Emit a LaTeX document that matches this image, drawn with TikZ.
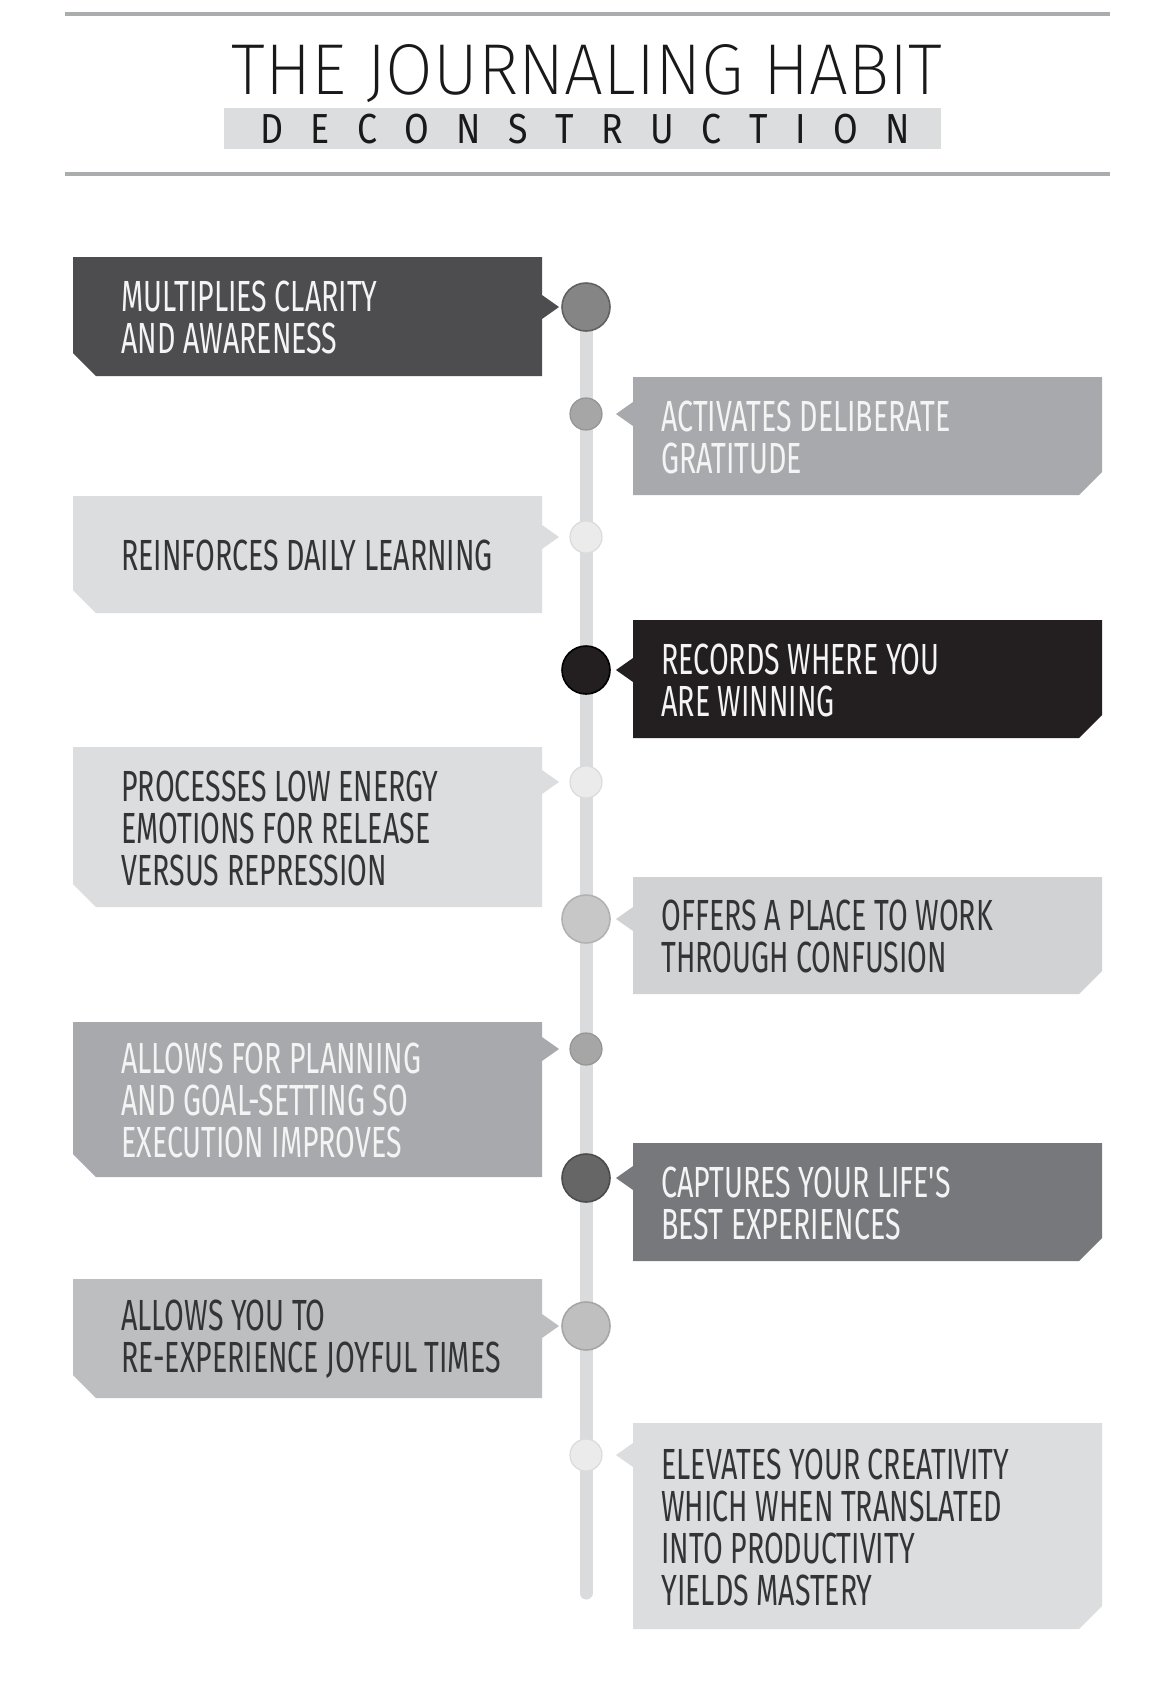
\documentclass[tikz,border=0pt]{standalone}
\usepackage{fontspec}
\newfontfamily\labfont[FakeStretch=0.655]{Fira Sans}
\IfFontExistsTF{Fira Sans ExtraLight}
  {\newfontfamily\titfont{Fira Sans ExtraLight}}
  {\IfFontExistsTF{Fira Sans Light}{\newfontfamily\titfont{Fira Sans Light}}{\newfontfamily\titfont{Fira Sans}}}
\newfontfamily\decofont[FakeStretch=0.85]{Fira Sans}
\definecolor{rulec}{HTML}{ABACAE}
\definecolor{bandc}{HTML}{DCDDDE}
\definecolor{linec}{HTML}{DADBDC}
\definecolor{darkbox}{HTML}{4D4D4F}
\definecolor{midbox}{HTML}{A7A9AC}
\definecolor{lightbox}{HTML}{DCDDDE}
\definecolor{blackbox}{HTML}{231F20}
\definecolor{paleb}{HTML}{D1D2D4}
\definecolor{greybox}{HTML}{77787B}
\definecolor{silverbox}{HTML}{BCBEC0}
\definecolor{darktext}{HTML}{343434}
\definecolor{whitetext}{HTML}{F4F4F4}
\newcommand\LBox[4]{\fill[#4] (73,#1) -- (542,#1) -- (542,#3-12) -- (559,#3) -- (542,#3+12) -- (542,#2) -- (96,#2) -- (73,#2-23) -- cycle;}
\newcommand\RBox[4]{\fill[#4] (633,#1) -- (1102,#1) -- (1102,#2-23) -- (1079,#2) -- (633,#2) -- (633,#3+12) -- (616,#3) -- (633,#3-12) -- cycle;}
\begin{document}
\begin{tikzpicture}[x=0.5pt,y=-0.5pt,
  lab/.style={font=\labfont\fontsize{21.8}{21}\selectfont, align=left, inner sep=0pt, anchor=west},
  bigdot/.style={circle, minimum size=24pt, inner sep=0pt, line width=0.8pt},
  smalldot/.style={circle, minimum size=16pt, inner sep=0pt, line width=0.6pt}]
\fill[white] (0,0) rectangle (1172,1694);
\useasboundingbox (0,0) rectangle (1172,1694);
% header
\draw[rulec, line width=2pt] (65,14) -- (1110,14);
\draw[rulec, line width=2pt] (65,174) -- (1110,174);
\fill[bandc] (224,108) rectangle (941,149);
\node[inner sep=0pt, text=black!90] (title) at (587,74) {\resizebox{355pt}{25pt}{\titfont THE JOURNALING HABIT}};
\node[inner sep=0pt, text=black!90] (deco) at (585,129) {\decofont\fontsize{21}{21}\selectfont\makebox[325pt][s]{D\hfill E\hfill C\hfill O\hfill N\hfill S\hfill T\hfill R\hfill U\hfill C\hfill T\hfill I\hfill O\hfill N}};
% timeline
\coordinate (tltop) at (586,307);
\coordinate (tlbot) at (586,1593);
\draw[linec, line width=6.5pt, line cap=round] (tltop) -- (tlbot);
% boxes
\LBox{257}{376}{307}{darkbox}
\RBox{377}{495}{414}{midbox}
\LBox{496}{613}{537}{lightbox}
\RBox{620}{738}{670}{blackbox}
\LBox{747}{907}{782}{lightbox}
\RBox{877}{994}{919}{paleb}
\LBox{1022}{1177}{1049}{midbox}
\RBox{1143}{1261}{1178}{greybox}
\LBox{1279}{1398}{1326}{silverbox}
\RBox{1423}{1629}{1455}{lightbox}
% dots
\node[bigdot, fill=black!48, draw=black!62] (c1) at (586,307) {};
\node[smalldot, fill=black!35, draw=black!42] (c2) at (586,414) {};
\node[smalldot, fill=black!8, draw=black!14] (c3) at (586,537) {};
\node[bigdot, fill=blackbox, draw=black] (c4) at (586,670) {};
\node[smalldot, fill=black!8, draw=black!14] (c5) at (586,782) {};
\node[bigdot, fill=black!22, draw=black!30] (c6) at (586,919) {};
\node[smalldot, fill=black!35, draw=black!42] (c7) at (586,1049) {};
\node[bigdot, fill=black!60, draw=black!70] (c8) at (586,1178) {};
\node[bigdot, fill=black!25, draw=black!35] (c9) at (586,1326) {};
\node[smalldot, fill=black!8, draw=black!14] (c10) at (586,1455) {};
% labels
\node[lab, text=whitetext] (t1) at (121,317.5) {MULTIPLIES CLARITY\\AND AWARENESS};
\node[lab, text=whitetext] (t2) at (661,437) {ACTIVATES DELIBERATE\\GRATITUDE};
\node[lab, text=darktext] (t3) at (121,555.5) {REINFORCES DAILY LEARNING};
\node[lab, text=whitetext] (t4) at (661,680) {RECORDS WHERE YOU\\ARE WINNING};
\node[lab, text=darktext] (t5) at (121,828) {PROCESSES LOW ENERGY\\EMOTIONS FOR RELEASE\\VERSUS REPRESSION};
\node[lab, text=darktext] (t6) at (661,936.5) {OFFERS A PLACE TO WORK\\THROUGH CONFUSION};
\node[lab, text=whitetext] (t7) at (121,1100.5) {ALLOWS FOR PLANNING\\AND GOAL-SETTING SO\\EXECUTION IMPROVES};
\node[lab, text=whitetext] (t8) at (661,1203) {CAPTURES YOUR LIFE'S\\BEST EXPERIENCES};
\node[lab, text=darktext] (t9) at (121,1339.5) {ALLOWS YOU TO\\RE-EXPERIENCE JOYFUL TIMES};
\node[lab, text=darktext] (t10) at (661,1527) {ELEVATES YOUR CREATIVITY\\WHICH WHEN TRANSLATED\\INTO PRODUCTIVITY\\YIELDS MASTERY};
\end{tikzpicture}
\end{document}
